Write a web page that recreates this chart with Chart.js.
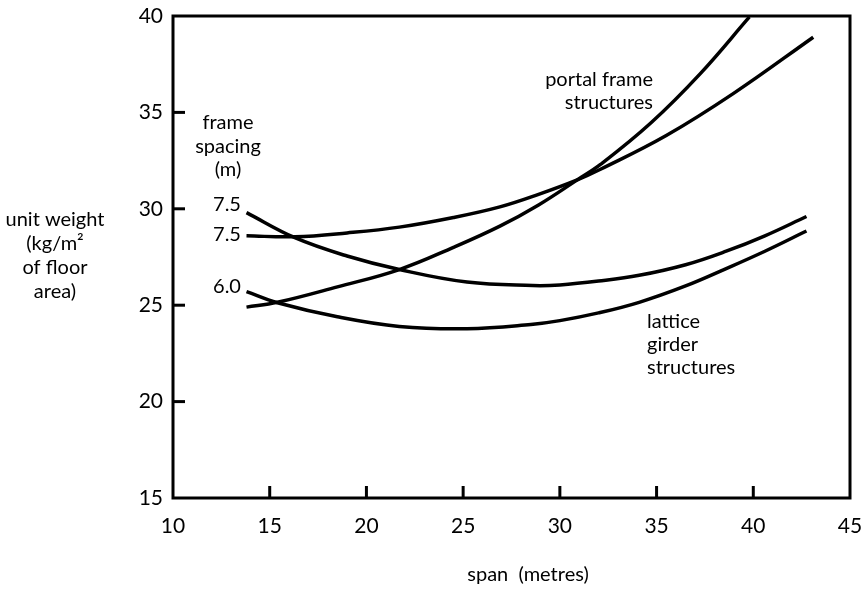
<!DOCTYPE html>
<html>
<head>
<meta charset="utf-8">
<script src="https://cdn.jsdelivr.net/npm/chart.js@4.4.1/dist/chart.umd.min.js"></script>
<style>
  body { margin: 0; background: #fff; }
  #wrap { width: 866px; height: 594px; }
</style>
</head>
<body>
<div id="wrap"><canvas id="chart"></canvas></div>
<script>
// values (span in metres, unit weight in kg/m2)
const portal75X = [13.8, 16.3, 19, 21.7, 24.5, 26.9, 28.9, 30.9, 32.1, 35.5, 39.0, 43.1];
const portal75Y = [28.6, 28.55, 28.75, 29.05, 29.55, 30.1, 30.75, 31.5, 32.05, 33.8, 36.0, 38.9];

const portal60X = [13.8, 15.4, 18.5, 21.7, 24.5, 26.9, 28.9, 30.9, 32.1, 34.7, 37.25, 39.8];
const portal60Y = [24.9, 25.15, 25.95, 26.85, 28.0, 29.1, 30.2, 31.5, 32.3, 34.45, 37.0, 39.95];

const lattice75X = [13.8, 16.3, 19, 21.7, 25.2, 28.6, 30, 32, 34.1, 36.5, 38.6, 40.6, 42.75];
const lattice75Y = [29.8, 28.5, 27.55, 26.85, 26.2, 26.02, 26.05, 26.25, 26.55, 27.1, 27.8, 28.6, 29.6];

const lattice60X = [13.8, 15.4, 18.5, 21.7, 25.2, 28.5, 30, 32, 34.1, 36.5, 38.6, 40.6, 42.75];
const lattice60Y = [25.7, 25.13, 24.4, 23.9, 23.78, 24.0, 24.2, 24.6, 25.15, 26.0, 26.9, 27.8, 28.85];

const xTicks = [10, 15, 20, 25, 30, 35, 40, 45];
const yTicks = [15, 20, 25, 30, 35, 40];

const FONT = 'Lato, "DejaVu Sans", sans-serif';

function points(xs, ys) {
    return xs.map((x, i) => ({ x: x, y: ys[i] }));
}

function curve(label, xs, ys) {
    return {
        label: label,
        data: points(xs, ys),
        borderColor: '#000',
        borderWidth: 3.5,
        pointRadius: 0,
        tension: 0.4,
        fill: false
    };
}

// frame box, inward tick marks and the free text labels
const decorations = {
    id: 'decorations',
    afterDraw(chart) {
        const ctx = chart.ctx;
        const area = chart.chartArea;
        const xs = chart.scales.x;
        const ys = chart.scales.y;

        ctx.save();
        ctx.strokeStyle = '#000';
        ctx.lineWidth = 3;
        ctx.strokeRect(area.left, area.top, area.right - area.left, area.bottom - area.top);

        xTicks.slice(1, -1).forEach(v => {
            const px = xs.getPixelForValue(v);
            ctx.beginPath();
            ctx.moveTo(px, area.bottom);
            ctx.lineTo(px, area.bottom - 12);
            ctx.stroke();
        });
        yTicks.slice(1, -1).forEach(v => {
            const py = ys.getPixelForValue(v);
            ctx.beginPath();
            ctx.moveTo(area.left, py);
            ctx.lineTo(area.left + 12, py);
            ctx.stroke();
        });

        ctx.fillStyle = '#000';
        ctx.font = '20px ' + FONT;
        ctx.textBaseline = 'middle';

        // y axis title
        ctx.textAlign = 'center';
        ['unit weight', '(kg/m\u00b2', 'of floor', 'area)'].forEach((t, i) => {
            ctx.fillText(t, 55, 220 + i * 24);
        });

        // frame spacing key
        ['frame', 'spacing', '(m)'].forEach((t, i) => {
            ctx.fillText(t, 228, 123 + i * 23.5);
        });
        ctx.fillText('7.5', 227, 205);
        ctx.fillText('7.5', 227, 235);
        ctx.fillText('6.0', 227, 287);

        // curve group labels
        ctx.textAlign = 'right';
        ctx.fillText('portal frame', 653, 80);
        ctx.fillText('structures', 653, 103);
        ctx.textAlign = 'left';
        ctx.fillText('lattice', 647, 322);
        ctx.fillText('girder', 647, 345);
        ctx.fillText('structures', 647, 368);

        // x axis title
        ctx.textAlign = 'center';
        ctx.fillText('span  (metres)', 528, 575);
        ctx.restore();
    }
};

const ctx = document.getElementById('chart').getContext('2d');
const chart = new Chart(ctx, {
    type: 'line',
    data: {
        datasets: [
            curve('portal 7.5', portal75X, portal75Y),
            curve('portal 6.0', portal60X, portal60Y),
            curve('lattice 7.5', lattice75X, lattice75Y),
            curve('lattice 6.0', lattice60X, lattice60Y)
        ]
    },
    options: {
        responsive: true,
        maintainAspectRatio: false,
        animation: false,
        layout: { padding: { top: 16, right: 16, left: 0, bottom: 0 } },
        plugins: {
            legend: { display: false },
            tooltip: { enabled: false }
        },
        scales: {
            x: {
                type: 'linear',
                min: 10,
                max: 45,
                afterBuildTicks: s => { s.ticks = xTicks.map(v => ({ value: v })); },
                afterFit: s => {
                    s.height = 96;
                    s.paddingLeft = 0;
                    s.paddingRight = 0;
                },
                grid: { display: false, drawTicks: false },
                border: { display: false },
                ticks: {
                    padding: 16,
                    color: '#000',
                    font: { family: FONT, size: 21 }
                }
            },
            y: {
                type: 'linear',
                min: 15,
                max: 40,
                afterBuildTicks: s => { s.ticks = yTicks.map(v => ({ value: v })); },
                afterFit: s => {
                    s.width = 173;
                    s.paddingTop = 0;
                    s.paddingBottom = 0;
                },
                grid: { display: false, drawTicks: false },
                border: { display: false },
                ticks: {
                    padding: 10,
                    color: '#000',
                    font: { family: FONT, size: 21 }
                }
            }
        }
    },
    plugins: [decorations]
});
</script>
</body>
</html>
